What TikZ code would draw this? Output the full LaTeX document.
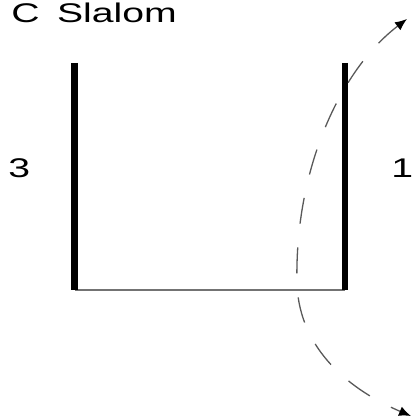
\documentclass[tikz,border=0pt]{standalone}
\usepackage{fontspec}
\setmainfont{Liberation Sans}
\usetikzlibrary{arrows.meta}
\begin{document}
\begin{tikzpicture}[x=1pt,y=-1pt,
  gate/.style={line width=6.5pt,black},
  base/.style={line width=1.8pt,black!55},
  lbl/.style={inner sep=0pt,font=\fontsize{27}{27}\selectfont,xscale=1.45,transform shape},
  path/.style={black!65,line width=1.3pt,dash pattern=on 26pt off 24pt,
    {Latex[length=12pt,width=10pt,black]}-{Latex[length=12pt,width=10pt,black]}}]
\useasboundingbox (0,0) rectangle (416,417);
\node[lbl,anchor=base west] (title) at (11,23) {C\hspace{0.45em}Slalom};
\node[lbl,anchor=base west] (l3) at (8,177) {3};
\node[lbl,anchor=base west] (l1) at (391,177) {1};
\coordinate (lt) at (74.5,63);
\coordinate (lb) at (74.5,290);
\coordinate (rt) at (345,63);
\coordinate (rb) at (345,290);
\coordinate (top) at (407,19);
\coordinate (mid) at (297,285);
\coordinate (bot) at (411,416);
\draw[base] (lb) -- (rb);
\draw[gate] (lt) -- (lb);
\draw[gate] (rt) -- (rb);
\draw[path] (top) .. controls (340,70) and (294,170) .. (mid) .. controls (300,350) and (350,390) .. (bot);
\end{tikzpicture}
\end{document}
